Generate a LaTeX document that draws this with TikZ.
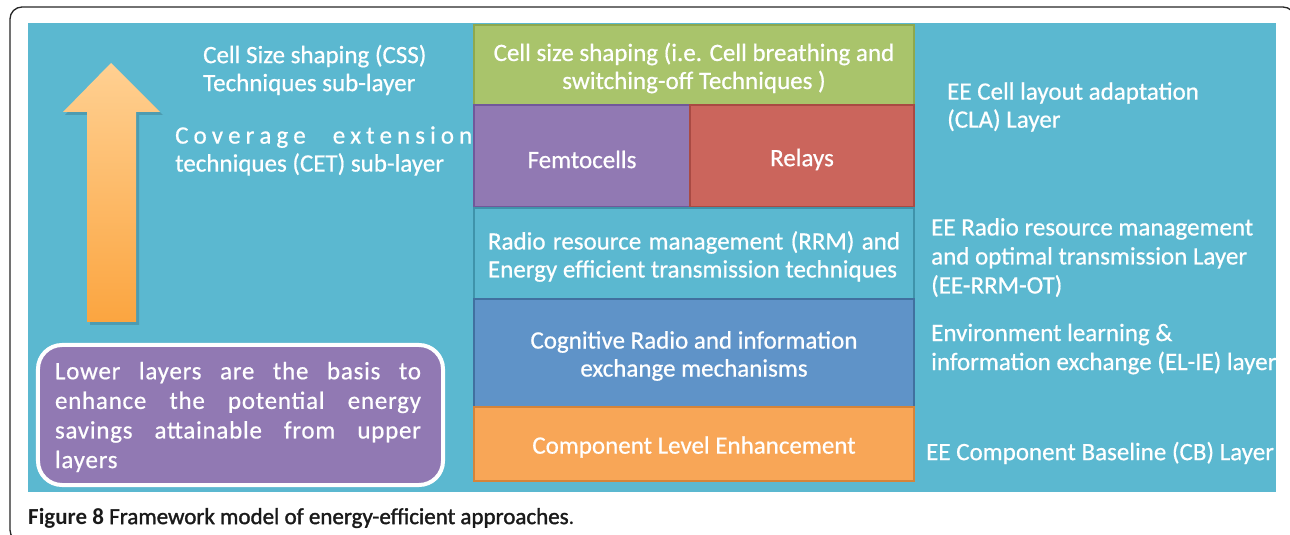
\documentclass[tikz,border=0pt]{standalone}
\usepackage{fontspec}
\usetikzlibrary{calc}
\setmainfont{Carlito}
\newfontfamily\wfont[FakeBold=0.6]{Carlito}
\newfontfamily\capsemi[FakeBold=1.5]{Carlito}
\definecolor{bgblue}{HTML}{5BB8D0}
\definecolor{gfill}{HTML}{A9C46B}
\definecolor{gdraw}{HTML}{8EA84E}
\definecolor{pfill}{HTML}{9179B3}
\definecolor{pdraw}{HTML}{71589A}
\definecolor{rfill}{HTML}{CB655C}
\definecolor{rdraw}{HTML}{A94A43}
\definecolor{rrmdraw}{HTML}{3F93AA}
\definecolor{cfill}{HTML}{5F93C8}
\definecolor{cdraw}{HTML}{41709F}
\definecolor{ofill}{HTML}{F8A657}
\definecolor{odraw}{HTML}{D4843A}
\definecolor{arrtop}{HTML}{FFD092}
\definecolor{arrbot}{HTML}{FBA540}
\definecolor{captxt}{HTML}{1A1A1A}
\begin{document}
\begin{tikzpicture}[x=1bp,y=-1bp,
  lbl/.style={text=white,inner sep=0,font=\wfont\fontsize{25bp}{28bp}\selectfont},
  layerbox/.style={draw=#1,line width=2.5bp,inner sep=0},
  boxtxt/.style={text=white,inner sep=0,align=center,font=\wfont\fontsize{25bp}{28bp}\selectfont},
  notebox/.style={fill=pfill,draw=white,line width=4bp,rounded corners=24bp,inner sep=0,
    minimum width=405bp,minimum height=140bp}]
\useasboundingbox (0,0) rectangle (1290,535);
% outer frame
\begin{scope}
\clip (0,0) rectangle (1290,535);
\draw[line width=1.3bp,black!85,rounded corners=12bp] (10,7) rectangle (1295,542);
\end{scope}
% background
\fill[bgblue] (28,23) rectangle (1276,492);
% arrow
\fill[black,opacity=0.15] (113,66) -- (163,115) -- (139,115) -- (139,325) -- (90,325) -- (90,115) -- (65,115) -- cycle;
\shade[top color=arrtop,bottom color=arrbot] (111,63) -- (160,112) -- (136,112) -- (136,322) -- (87,322) -- (87,112) -- (63,112) -- cycle;
% layer stack
\node[layerbox=gdraw,fill=gfill,minimum width=440bp,minimum height=80bp] (css) at (694,65) {};
\node[layerbox=pdraw,fill=pfill,minimum width=216bp,minimum height=102bp] (femto) at (582,156) {};
\node[layerbox=rdraw,fill=rfill,minimum width=224bp,minimum height=102bp] (relay) at (802,156) {};
\node[layerbox=rrmdraw,fill=bgblue,minimum width=440bp,minimum height=91bp] (rrm) at (694,253.5) {};
\node[layerbox=cdraw,fill=cfill,minimum width=440bp,minimum height=108bp] (cog) at (694,353) {};
\node[layerbox=odraw,fill=ofill,minimum width=440bp,minimum height=74bp] (comp) at (694,444) {};
\node[boxtxt] (csstxt) at ($(css.center)+(0,3)$)
  {Cell size shaping (i.e. Cell breathing and\\switching-off Techniques )};
\node[boxtxt] (femtotxt) at ($(femto.center)+(0,3.5)$) {Femtocells};
\node[boxtxt] (relaytxt) at ($(relay.center)+(0,3.5)$) {Relays};
\node[boxtxt] (rrmtxt) at ($(rrm.center)+(0,3)$)
  {\makebox[412bp][s]{Radio resource management (RRM) and}\\\makebox[412bp][l]{Energy efficient transmission techniques}};
\node[boxtxt] (cogtxt) at ($(cog.center)+(0,3)$)
  {Cognitive Radio and information\\exchange mechanisms};
\node[boxtxt] (comptxt) at ($(comp.center)+(0,3)$) {Component Level Enhancement};
% left labels
\node[lbl,anchor=west,align=left] (csslbl) at (203,70) {Cell Size shaping (CSS)\\Techniques sub-layer};
\node[lbl,anchor=west,align=left] (cetlbl) at (175,151)
  {\makebox[297bp][s]{C\hfill o\hfill v\hfill e\hfill r\hfill a\hfill g\hfill e\hspace{22bp}\hfill e\hfill x\hfill t\hfill e\hfill n\hfill s\hfill i\hfill o\hfill n}\\techniques (CET) sub-layer};
% note box
\node[notebox] (note) at (240.5,415) {};
\node[lbl,font=\wfont\fontsize{25bp}{29.6bp}\addfontfeature{LetterSpace=3}\selectfont,align=left] (notetxt) at (238,417)
  {\makebox[366bp][s]{Lower layers are the basis to}\\
   \makebox[366bp][s]{enhance the potential energy}\\
   \makebox[366bp][s]{savings attainable from upper}\\
   layers};
% right labels
\begin{scope}
\clip (28,23) rectangle (1276,492);
\node[lbl,anchor=west,align=left] (cla) at (947,107) {EE Cell layout adaptation\\(CLA) Layer};
\node[lbl,anchor=west,align=left,font=\wfont\fontsize{25bp}{29bp}\selectfont] (eerrm) at (931,257.5)
  {EE Radio resource management\\and optimal transmission Layer\\(EE-RRM-OT)};
\node[lbl,anchor=west,align=left,font=\wfont\fontsize{25bp}{29bp}\selectfont] (elie) at (931,349)
  {Environment learning \&\\information exchange (EL-IE) layer};
\node[lbl,anchor=west] (cb) at (926,453) {EE Component Baseline (CB) Layer};
\end{scope}
% caption
\node[anchor=west,inner sep=0,text=captxt,font=\fontsize{23bp}{26bp}\selectfont] (cap) at (28,518)
  {\textbf{Figure 8} {\capsemi Framework model of energy-efficient approaches}.};
\end{tikzpicture}
\end{document}
